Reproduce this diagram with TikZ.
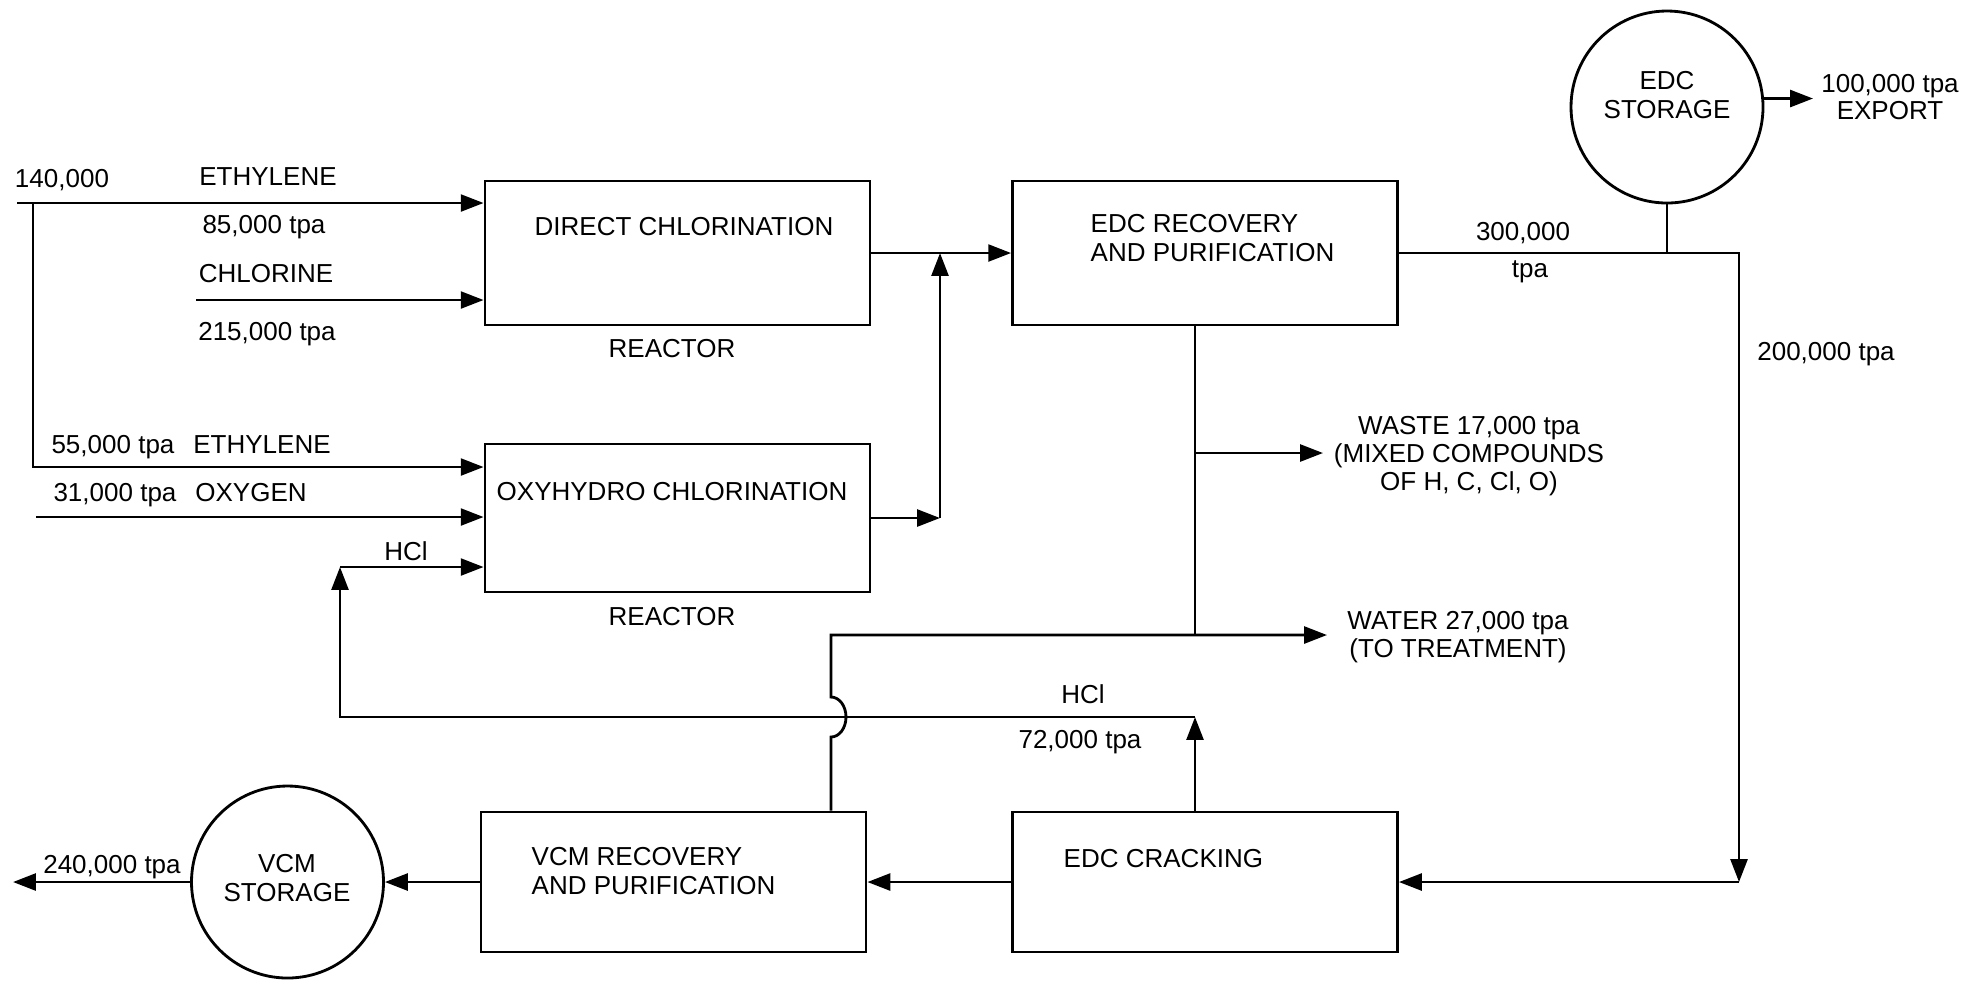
\documentclass[tikz,border=0pt]{standalone}
\usepackage{fontspec}
\setmainfont{Liberation Sans}
\usetikzlibrary{arrows.meta}

\tikzset{
  unit/.style={draw, thick, minimum width=3.85cm, minimum height=1.44cm, inner sep=0pt},
  tank/.style={draw, thick, circle, minimum size=1.92cm, inner sep=0pt},
  pipe/.style={thick},
  flow/.style={thick, -{Triangle[length=6.5pt,width=4.8pt]}},
  txt/.style={font=\fontsize{7.4}{8.2}\selectfont, inner sep=0pt},
  tight/.style={font=\fontsize{7.4}{6.4}\selectfont, inner sep=0pt, align=center},
}

\begin{document}
\begin{tikzpicture}
    \useasboundingbox (0,0) rectangle (19.84,-9.83);

    % process units
    \node[unit] (dc) at (6.775,-2.53) {};
    \node[unit, minimum height=1.48cm] (oxy) at (6.775,-5.18) {};
    \node[unit] (edcrec) at (12.05,-2.53) {};
    \node[unit, minimum height=1.40cm] (crack) at (12.05,-8.82) {};
    \node[unit, minimum height=1.40cm] (vcmrec) at (6.735,-8.82) {};

    % storage tanks
    \node[tank] (edcst) at (16.67,-1.07) {};
    \node[tank] (vcmst) at (2.875,-8.82) {};

    % free ends and bends
    \coordinate (ethin) at (0.17,-2.03);
    \coordinate (split) at (0.33,-2.03);
    \coordinate (ethin2) at (0.33,-4.67);
    \coordinate (clin) at (1.96,-3.00);
    \coordinate (o2in) at (0.36,-5.17);
    \coordinate (mix) at (9.40,-2.53);
    \coordinate (hclup) at (3.40,-5.67);
    \coordinate (hcldn) at (3.40,-7.17);
    \coordinate (hcltop) at (11.95,-7.17);
    \coordinate (turn) at (17.39,-8.82);
    \coordinate (wastej) at (11.95,-4.53);
    \coordinate (wastetip) at (13.23,-4.53);
    \coordinate (waterj) at (8.31,-6.35);
    \coordinate (watertip) at (13.27,-6.35);
    \coordinate (exptip) at (18.13,-0.98);
    \coordinate (vcmtip) at (0.13,-8.82);

    % feeds to the reactors
    \draw[flow] (ethin) -- (ethin -| dc.west);
    \draw[flow] (split) -- (ethin2) -- (ethin2 -| oxy.west);
    \draw[flow] (clin) -- (clin -| dc.west);
    \draw[flow] (o2in) -- (o2in -| oxy.west);

    % reactor products to EDC recovery
    \draw[flow] (dc.east) -- (edcrec.west);
    \draw[flow] (oxy.east) -- (oxy.east -| mix);
    \draw[flow] (oxy.east -| mix) -- (mix);

    % EDC to storage and cracking
    \draw[pipe] (edcst.south) -- (edcst.south |- edcrec.east);
    \draw[flow] (edcrec.east) -| (turn);
    \draw[flow] (turn) -- (crack.east);
    \draw[flow] (edcst.5) -- (edcst.5 -| exptip);

    % waste and water
    \draw[pipe] (wastej |- edcrec.south) -- (wastej |- waterj);
    \draw[flow] (wastej) -- (wastetip);
    \draw[flow] (waterj |- vcmrec.north) -- (8.31,-7.37)
        arc[start angle=-90, end angle=90, x radius=0.15, y radius=0.2]
        -- (waterj) -- (watertip);

    % HCl recycle
    \draw[flow] (hcltop |- crack.north) -- (hcltop);
    \draw[flow] (hcltop) -- (hcldn) -- (hclup);
    \draw[flow] (hclup) -- (hclup -| oxy.west);

    % VCM line
    \draw[flow] (crack.west) -- (vcmrec.east);
    \draw[flow] (vcmrec.west) -- (vcmst.east);
    \draw[flow] (vcmst.west) -- (vcmtip);

    % unit texts
    \node[txt, anchor=base] at (6.84,-2.35) {DIRECT CHLORINATION};
    \node[txt, anchor=base] at (6.72,-3.57) {REACTOR};
    \node[txt, anchor=base] at (6.72,-5.00) {OXYHYDRO CHLORINATION};
    \node[txt, anchor=base] at (6.72,-6.25) {REACTOR};
    \node[txt, anchor=west, align=left] at (10.90,-2.38) {EDC RECOVERY\\AND PURIFICATION};
    \node[txt, anchor=base west] at (10.63,-8.67) {EDC CRACKING};
    \node[txt, anchor=west, align=left] at (5.31,-8.71) {VCM RECOVERY\\AND PURIFICATION};
    \node[txt, align=center] at (16.67,-0.95) {EDC\\STORAGE};
    \node[txt, align=center] at (2.87,-8.78) {VCM\\STORAGE};

    % stream labels
    \node[txt, anchor=base] at (0.62,-1.87) {140,000};
    \node[txt, anchor=base] at (2.68,-1.85) {ETHYLENE};
    \node[txt, anchor=base] at (2.64,-2.33) {85,000 tpa};
    \node[txt, anchor=base] at (2.66,-2.82) {CHLORINE};
    \node[txt, anchor=base] at (2.67,-3.40) {215,000 tpa};
    \node[txt, anchor=base] at (1.13,-4.53) {55,000 tpa};
    \node[txt, anchor=base] at (2.62,-4.53) {ETHYLENE};
    \node[txt, anchor=base] at (1.15,-5.01) {31,000 tpa};
    \node[txt, anchor=base] at (2.51,-5.01) {OXYGEN};
    \node[txt, anchor=base] at (4.06,-5.60) {HCl};
    \node[txt, anchor=base] at (15.23,-2.40) {300,000};
    \node[txt, anchor=base] at (15.30,-2.77) {tpa};
    \node[txt, anchor=base] at (18.26,-3.60) {200,000 tpa};
    \node[tight, font=\fontsize{7.4}{5.6}\selectfont] at (18.90,-0.97) {100,000 tpa\\EXPORT};
    \node[tight] at (14.69,-4.56) {WASTE 17,000 tpa\\(MIXED COMPOUNDS\\OF H, C, Cl, O)};
    \node[tight] at (14.58,-6.37) {WATER 27,000 tpa\\(TO TREATMENT)};
    \node[txt, anchor=base] at (10.83,-7.03) {HCl};
    \node[txt, anchor=base] at (10.80,-7.48) {72,000 tpa};
    \node[txt, anchor=base] at (1.12,-8.73) {240,000 tpa};
\end{tikzpicture}
\end{document}
